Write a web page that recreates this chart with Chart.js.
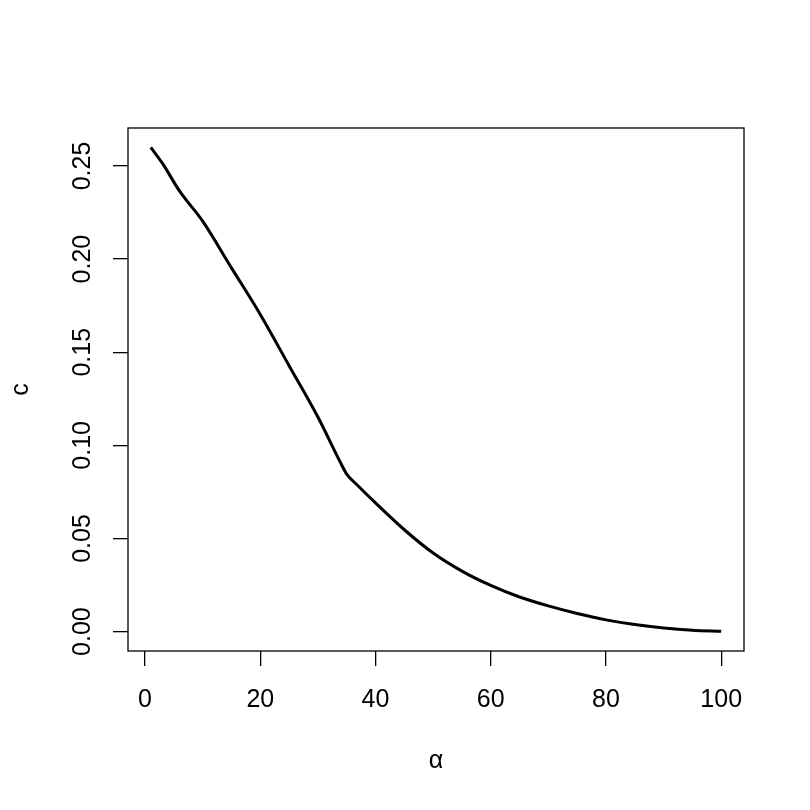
<!DOCTYPE html>
<html>
<head>
<meta charset="utf-8">
<script src="https://cdn.jsdelivr.net/npm/chart.js@4.4.1/dist/chart.umd.min.js"></script>
<style>
  html, body { margin: 0; padding: 0; background: #fff; }
  #wrap { width: 810px; height: 810px; }
</style>
</head>
<body>
<div id="wrap"><canvas id="myChart" width="810" height="810"></canvas></div>
<script>
// values
var alphaVals = [1, 3, 6, 10, 15, 20, 25, 30, 34, 35, 37, 40, 45, 50, 55, 60, 65, 70, 75, 80, 85, 90, 95, 100];
var cVals = [0.2600, 0.2515, 0.2365, 0.2204, 0.1953, 0.1703, 0.1428, 0.1152, 0.0903, 0.0846, 0.0782, 0.0691, 0.0547, 0.0422, 0.0325, 0.0248, 0.0186, 0.0138, 0.0097, 0.0063, 0.0038, 0.0020, 0.0008, 0.0002];
var xTicks = [0, 20, 40, 60, 80, 100];
var yTicks = [0, 0.05, 0.10, 0.15, 0.20, 0.25];
var xTitle = "\u03b1";
var yTitle = "c";

var FONT = '25px "Liberation Sans", Arial, sans-serif';

var points = [];
for (var i = 0; i < alphaVals.length; i++) {
  points.push({ x: alphaVals[i], y: cVals[i] });
}

// box, tick labels and axis titles, R style
var rFrame = {
  id: 'rFrame',
  afterDraw: function(chart) {
    var ctx = chart.ctx;
    var a = chart.chartArea;
    var xs = chart.scales.x, ys = chart.scales.y;
    ctx.save();
    ctx.strokeStyle = '#000';
    ctx.lineWidth = 1.3;
    ctx.strokeRect(a.left, a.top, a.right - a.left, a.bottom - a.top);

    ctx.fillStyle = '#000';
    ctx.font = FONT;
    ctx.textBaseline = 'alphabetic';
    ctx.textAlign = 'center';
    xTicks.forEach(function(v) {
      ctx.fillText(String(v), xs.getPixelForValue(v), a.bottom + 56);
    });
    ctx.fillText(xTitle, (a.left + a.right) / 2, a.bottom + 117);

    yTicks.forEach(function(v) {
      ctx.save();
      ctx.translate(a.left - 38, ys.getPixelForValue(v));
      ctx.rotate(-Math.PI / 2);
      ctx.fillText(v.toFixed(2), 0, 0);
      ctx.restore();
    });
    ctx.save();
    ctx.translate(a.left - 100, (a.top + a.bottom) / 2);
    ctx.rotate(-Math.PI / 2);
    ctx.fillText(yTitle, 0, 0);
    ctx.restore();
    ctx.restore();
  }
};

var ctx = document.getElementById('myChart').getContext('2d');
var cgraph = new Chart(ctx, {
  type: 'line',
  data: {
    datasets: [{
      data: points,
      borderColor: '#000',
      borderWidth: 3,
      pointRadius: 0,
      fill: false,
      cubicInterpolationMode: 'monotone'
    }]
  },
  options: {
    responsive: false,
    animation: false,
    events: [],
    layout: { padding: { top: 128, right: 66, left: 0, bottom: 0 } },
    plugins: { legend: { display: false }, tooltip: { enabled: false } },
    scales: {
      x: {
        type: 'linear',
        min: -2.96,
        max: 103.96,
        afterBuildTicks: function(s) { s.ticks = xTicks.map(function(v) { return { value: v }; }); },
        afterFit: function(s) { s.height = 159; },
        ticks: { display: false },
        border: { display: false },
        grid: { drawOnChartArea: false, drawTicks: true, tickLength: 15, color: '#000', lineWidth: 1.3 }
      },
      y: {
        type: 'linear',
        min: -0.0104,
        max: 0.2704,
        afterBuildTicks: function(s) { s.ticks = yTicks.map(function(v) { return { value: v }; }); },
        afterFit: function(s) { s.width = 128; },
        ticks: { display: false },
        border: { display: false },
        grid: { drawOnChartArea: false, drawTicks: true, tickLength: 15, color: '#000', lineWidth: 1.3 }
      }
    }
  },
  plugins: [rFrame]
});
</script>
</body>
</html>
